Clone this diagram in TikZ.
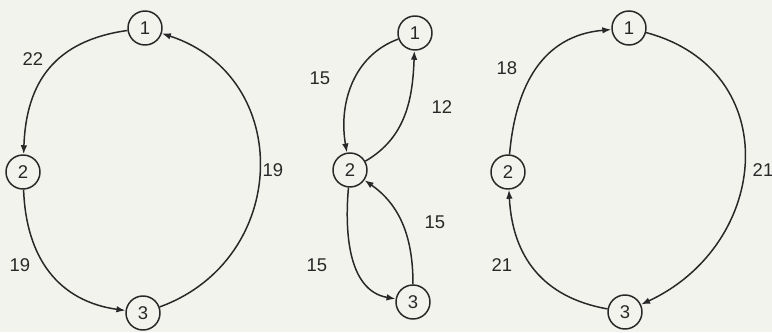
\documentclass[tikz,border=0pt]{standalone}
\usepackage{fontspec}
\setsansfont{Liberation Sans}
\usetikzlibrary{arrows.meta}
\definecolor{paper}{RGB}{243,243,238}
\definecolor{ink}{RGB}{40,40,40}
\tikzset{
  vtx/.style={draw=ink, circle, line width=0.85pt, minimum size=0.68cm, inner sep=0pt,
              font=\sffamily\fontsize{10.5}{12}\selectfont, text=ink},
  arc/.style={-{Latex[length=1.8mm,width=1.3mm]}, line width=0.85pt, draw=ink},
  wt/.style={font=\sffamily\fontsize{10.5}{12}\selectfont, text=ink}
}
\begin{document}
\begin{tikzpicture}[x=0.02cm, y=0.02cm]
  \fill[paper] (0,0) rectangle (772,332);
  \useasboundingbox (0,0) rectangle (772,332);
  % left cycle
  \node[vtx] (l1) at (145,304) {1};
  \node[vtx] (l2) at (23,160) {2};
  \node[vtx] (l3) at (143,19) {3};
  \draw[arc] (l1) to[out=188, in=88, looseness=1.15] (l2);
  \draw[arc] (l2) to[out=-88, in=172, looseness=1.1] (l3);
  \draw[arc] (l3) to[out=20, in=-18, looseness=1.3] (l1);
  \node[wt] (wl12) at (33,273) {22};
  \node[wt] (wl23) at (20,67) {19};
  \node[wt] (wl31) at (273,162) {19};
  % middle, two loops through 2
  \node[vtx] (m1) at (415,299) {1};
  \node[vtx] (m2) at (350,162) {2};
  \node[vtx] (m3) at (413,30) {3};
  \draw[arc] (m1) to[out=200, in=100] (m2);
  \draw[arc] (m2) to[out=30, in=-92] (m1);
  \draw[arc] (m3) to[out=90, in=-35] (m2);
  \draw[arc] (m2) to[out=-95, in=170] (m3);
  \node[wt] (wm12) at (320,254) {15};
  \node[wt] (wm21) at (442,225) {12};
  \node[wt] (wm32) at (435,110) {15};
  \node[wt] (wm23) at (317,67) {15};
  % right cycle
  \node[vtx] (r1) at (629,304) {1};
  \node[vtx] (r2) at (508,160) {2};
  \node[vtx] (r3) at (625,20) {3};
  \draw[arc] (r2) to[out=85, in=185, looseness=1.1] (r1);
  \draw[arc] (r1) to[out=-15, in=25, looseness=1.35] (r3);
  \draw[arc] (r3) to[out=170, in=-87, looseness=1.1] (r2);
  \node[wt] (wr21) at (507,264) {18};
  \node[wt] (wr13) at (763,162) {21};
  \node[wt] (wr32) at (502,67) {21};
\end{tikzpicture}
\end{document}
